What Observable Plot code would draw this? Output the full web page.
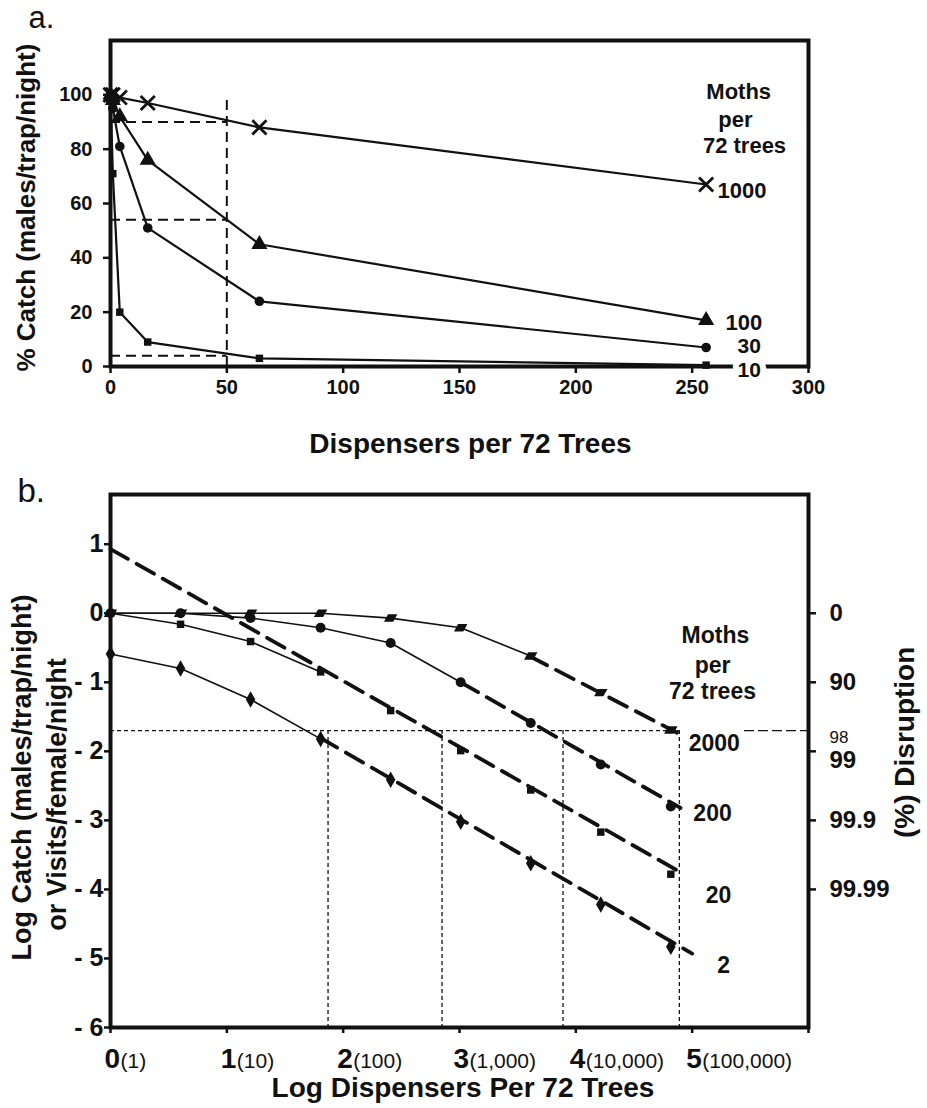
<!DOCTYPE html>
<html><head><meta charset="utf-8">
<script src="https://cdn.jsdelivr.net/npm/d3@7"></script>
<script src="https://cdn.jsdelivr.net/npm/@observablehq/plot@0.6"></script>
<style>
body{margin:0;background:#fff;}
#wrap{width:927px;}
#wrap svg{display:block;overflow:visible;}
</style></head><body><div id="wrap"></div>
<script>
// ---------- Panel a data ----------
const dispensersA = [0, 1, 4, 16, 64, 256];
const catch1000 = [100, 100, 99, 97, 88, 67];
const catch100 = [100, 98, 92, 76, 45, 17];
const catch30 = [100, 95, 81, 51, 24, 7];
const catch10 = [100, 71, 20, 9, 3, 0.5];
const mothsA = ["1000", "100", "30", "10"];
const xTicksA = [0, 50, 100, 150, 200, 250, 300];
const yTicksA = [0, 20, 40, 60, 80, 100];
const refDispA = [50];
const refDispTopA = 99;
const refCatchA = [90, 54, 4];

// ---------- Panel b data ----------
const dispensersB = [1, 4, 16, 64, 256, 1024, 4096, 16384, 65536];
const log2000 = [0, 0, 0, 0, -0.07, -0.21, -0.62, -1.15, -1.69];
const log200 = [0, 0, -0.07, -0.21, -0.43, -1.0, -1.59, -2.19, -2.80];
const log20 = [0, -0.16, -0.41, -0.85, -1.41, -1.99, -2.56, -3.17, -3.78];
const log2 = [-0.59, -0.80, -1.25, -1.82, -2.41, -3.02, -3.62, -4.22, -4.83];
const mothsB = ["2000", "200", "20", "2"];
const solidPointsB = [7, 6, 4, 4];           // points joined by the thin solid line
const fit2000 = [[3.6, -0.62], [4.87, -1.73]];
const fit200 = [[3.01, -1.0], [4.9, -2.82]];
const fit20 = [[0, 0.93], [4.93, -3.78]];
const fit2 = [[1.8, -1.8], [5.0, -4.93]];
const threshold98 = -1.7;
const crossX = [1.87, 2.85, 3.89, 4.89];
const xTicksB = [0, 1, 2, 3, 4, 5, 6];
const xTickMainB = ["0", "1", "2", "3", "4", "5"];
const xTickSubB = ["(1)", "(10)", "(100)", "(1,000)", "(10,000)", "(100,000)"];
const yTicksB = [1, 0, -1, -2, -3, -4, -5, -6];
const pctTicks = [0, -1, -2, -3, -4];
const pctLabels = ["0", "90", "99", "99.9", "99.99"];

const FONT = "'Liberation Sans', Arial, Helvetica, sans-serif";
const INK = "#111";

// ---------- Panel a ----------
const seriesA = [catch1000, catch100, catch30, catch10];
const rowsA = [];
mothsA.forEach((m, i) => dispensersA.forEach((d, j) => rowsA.push({moths: m, x: d, y: seriesA[i][j]})));
const ofA = m => rowsA.filter(r => r.moths === m);
const lbl = (t, o) => Plot.text([t], Object.assign({x: () => o.x, y: () => o.y, text: d => d, fill: INK, fontWeight: "bold"}, o.opts));

const plotA = Plot.plot({
  width: 927, height: 470,
  marginLeft: 110, marginRight: 119, marginTop: 40, marginBottom: 104,
  x: {domain: [0, 300]},
  y: {domain: [0, 120]},
  style: {fontFamily: FONT, color: INK, background: "white"},
  marks: [
    Plot.ruleX(refDispA, {y1: 0, y2: refDispTopA, stroke: INK, strokeWidth: 2, strokeDasharray: "10,6"}),
    Plot.ruleY(refCatchA, {x1: 0, x2: refDispA[0], stroke: INK, strokeWidth: 2, strokeDasharray: "10,6"}),
    Plot.line(rowsA, {x: "x", y: "y", z: "moths", stroke: INK, strokeWidth: 2.2}),
    Plot.dot(ofA("1000"), {x: "x", y: "y", symbol: "times", stroke: INK, strokeWidth: 2.8, r: 6.5}),
    Plot.dot(ofA("100"), {x: "x", y: "y", symbol: "triangle", fill: INK, r: 6}),
    Plot.dot(ofA("30"), {x: "x", y: "y", symbol: "circle", fill: INK, r: 4.8}),
    Plot.dot(ofA("10"), {x: "x", y: "y", symbol: "square", fill: INK, r: 4.2}),
    Plot.frame({stroke: INK, strokeWidth: 4}),
    Plot.axisX({ticks: xTicksA, tickSize: 7, tickPadding: 6, fontSize: 20, fontWeight: "bold", label: null, strokeWidth: 2.5}),
    Plot.axisY({ticks: yTicksA, tickSize: 7, tickPadding: 11, fontSize: 20, fontWeight: "bold", label: null, strokeWidth: 2.5}),
    lbl("a.", {x: -35.2, y: 128.4, opts: {fontWeight: "normal", fontSize: 31, textAnchor: "start"}}),
    lbl("% Catch (males/trap/night)", {x: -36, y: 58.5, opts: {fontSize: 26, rotate: -90}}),
    lbl("Dispensers per 72 Trees", {x: 154.7, y: -28.7, opts: {fontSize: 28}}),
    lbl("Moths", {x: 270, y: 101.2, opts: {fontSize: 22}}),
    lbl("per", {x: 268.6, y: 90.9, opts: {fontSize: 22}}),
    lbl("72 trees", {x: 272.5, y: 81.3, opts: {fontSize: 22}}),
    lbl("1000", {x: 260.9, y: 64.8, opts: {fontSize: 22, textAnchor: "start"}}),
    lbl("100", {x: 264.3, y: 16.2, opts: {fontSize: 22, textAnchor: "start"}}),
    lbl("30", {x: 269.5, y: 7.4, opts: {fontSize: 21, textAnchor: "start"}}),
    lbl("10", {x: 269.5, y: -1.4, opts: {fontSize: 21, textAnchor: "start", stroke: "white", strokeWidth: 12, paintOrder: "stroke"}})
  ]
});

// ---------- Panel b ----------
const logX = dispensersB.map(d => Math.log10(d));
const seriesB = [log2000, log200, log20, log2];
const fitsB = [fit2000, fit200, fit20, fit2];
const rowsB = [], solidB = [], fitRows = [];
mothsB.forEach((m, i) => {
  logX.forEach((x, j) => {
    const r = {moths: m, x, y: seriesB[i][j]};
    rowsB.push(r);
    if (j < solidPointsB[i]) solidB.push(r);
  });
  fitsB[i].forEach(([x, y]) => fitRows.push({moths: m, x, y}));
});
const ofB = m => rowsB.filter(r => r.moths === m);
const parallelogram = {
  draw(ctx, size) {
    const h = Math.sqrt(size) * 0.42, w = h * 1.25, s = h * 0.55;
    ctx.moveTo(-w + s, -h); ctx.lineTo(w + s, -h); ctx.lineTo(w - s, h); ctx.lineTo(-w - s, h); ctx.closePath();
  }
};
const fmtY = d => d < 0 ? "- " + (-d) : String(d);

const plotB = Plot.plot({
  width: 927, height: 638,
  marginLeft: 110, marginRight: 119, marginTop: 24, marginBottom: 81,
  x: {domain: [0, 6]},
  y: {domain: [-6, 1.72]},
  style: {fontFamily: FONT, color: INK, background: "white"},
  marks: [
    Plot.ruleY([threshold98], {x1: 0, x2: crossX[3], stroke: INK, strokeWidth: 1.3, strokeDasharray: "4,3"}),
    Plot.ruleY([threshold98], {x1: 5.45, x2: 6, stroke: INK, strokeWidth: 1.1, strokeDasharray: "10,4"}),
    Plot.ruleX(crossX, {y1: threshold98, y2: -6, stroke: INK, strokeWidth: 1.3, strokeDasharray: "4,3"}),
    Plot.line(solidB, {x: "x", y: "y", z: "moths", stroke: INK, strokeWidth: 1.6}),
    Plot.line(fitRows, {x: "x", y: "y", z: "moths", stroke: INK, strokeWidth: 3.8, strokeDasharray: "20,10"}),
    Plot.dot(ofB("2000"), {x: "x", y: "y", symbol: parallelogram, fill: INK, r: 5}),
    Plot.dot(ofB("200"), {x: "x", y: "y", symbol: "circle", fill: INK, r: 5}),
    Plot.dot(ofB("20"), {x: "x", y: "y", symbol: "square", fill: INK, r: 4.2}),
    Plot.dot(ofB("2"), {x: "x", y: "y", symbol: "diamond", fill: INK, r: 5}),
    Plot.frame({stroke: INK, strokeWidth: 4}),
    Plot.axisX({ticks: xTicksB, tickSize: 6, tickFormat: () => "", label: null, strokeWidth: 2.5}),
    Plot.text(xTickMainB, {x: (d, i) => xTicksB[i], text: d => d, frameAnchor: "bottom", dy: 40, dx: -6, textAnchor: "start", lineAnchor: "bottom", fontSize: 28, fontWeight: "bold", fill: INK}),
    Plot.text(xTickSubB, {x: (d, i) => xTicksB[i], text: d => d, frameAnchor: "bottom", dy: 40, dx: 10, textAnchor: "start", lineAnchor: "bottom", fontSize: 21, fill: INK}),
    Plot.axisY({ticks: yTicksB, tickSize: 6, tickPadding: 1, tickFormat: fmtY, fontSize: 25, fontWeight: "bold", label: null, strokeWidth: 2.5}),
    Plot.axisY({anchor: "right", ticks: pctTicks, tickSize: 7, tickFormat: () => "", label: null, strokeWidth: 2.5}),
    Plot.text(pctLabels.filter((t, i) => i !== 2), {x: () => 6, y: t => pctTicks[pctLabels.indexOf(t)], text: d => d, dx: 21, textAnchor: "start", fontSize: 24, fontWeight: "bold", fill: INK}),
    Plot.text([pctLabels[2]], {x: () => 6, y: () => pctTicks[2], text: d => d, dx: 21, dy: 9, textAnchor: "start", fontSize: 24, fontWeight: "bold", fill: INK}),
    Plot.text(["98"], {x: () => 6, y: () => threshold98, text: d => d, dx: 21, dy: 7, textAnchor: "start", fontSize: 17, fill: INK}),
    lbl("b.", {x: -0.8, y: 1.764, opts: {fontWeight: "normal", fontSize: 33, textAnchor: "start"}}),
    lbl("Log Catch (males/trap/night)", {x: -0.76, y: -2.378, opts: {fontSize: 27, rotate: -90}}),
    lbl("or Visits/female/night", {x: -0.46, y: -2.625, opts: {fontSize: 27, rotate: -90}}),
    lbl("(%) Disruption", {x: 6.83, y: -1.87, opts: {fontSize: 28, rotate: -90}}),
    lbl("Log Dispensers Per 72 Trees", {x: 3.03, y: -6.88, opts: {fontSize: 28}}),
    lbl("Moths", {x: 5.2, y: -0.32, opts: {fontSize: 23}}),
    lbl("per", {x: 5.175, y: -0.756, opts: {fontSize: 23}}),
    lbl("72 trees", {x: 5.175, y: -1.133, opts: {fontSize: 23}}),
    lbl("2000", {x: 5.19, y: -1.886, opts: {fontSize: 23}}),
    lbl("200", {x: 5.175, y: -2.90, opts: {fontSize: 23}}),
    lbl("20", {x: 5.227, y: -4.09, opts: {fontSize: 23}}),
    lbl("2", {x: 5.27, y: -5.10, opts: {fontSize: 23}})
  ]
});

// make the axis tick labels heavy, as in the original figure
for (const svg of [plotA, plotB]) {
  svg.querySelectorAll('g[aria-label$="tick label"]').forEach(g => {
    g.setAttribute("font-weight", "bold");
    g.style.fontWeight = "bold";
  });
}

const wrap = document.getElementById("wrap");
wrap.appendChild(plotA);
wrap.appendChild(plotB);
</script></body></html>
